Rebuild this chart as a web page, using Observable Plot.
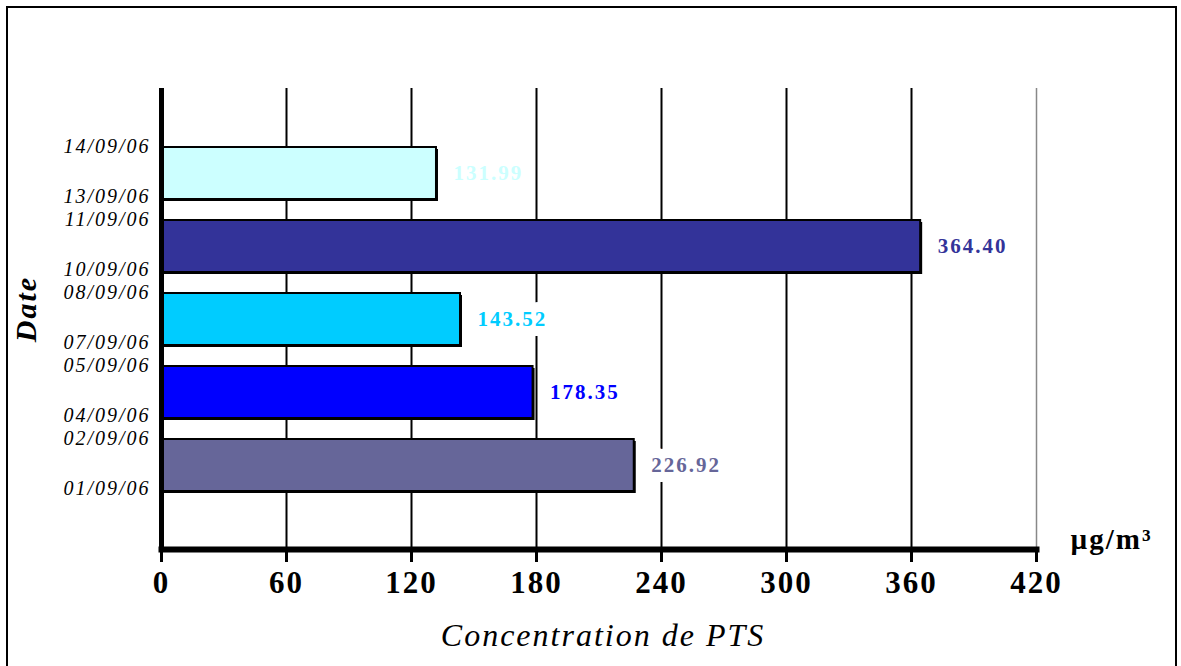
<!DOCTYPE html>
<html>
<head>
<meta charset="utf-8">
<script src="https://cdn.jsdelivr.net/npm/d3@7"></script>
<script src="https://cdn.jsdelivr.net/npm/@observablehq/plot@0.6"></script>
<style>
  html, body { margin: 0; padding: 0; background: #fff; overflow: hidden; }
  #wrap { position: relative; width: 1181px; height: 666px; overflow: hidden; }
  #chart { position: absolute; left: 0; top: 0; }
  #border { position: absolute; left: 6px; top: 6px; width: 1167px; height: 720px;
            border: 2px solid #000; pointer-events: none; }
  #chart svg text { letter-spacing: 2px; }
</style>
</head>
<body>
<div id="wrap"><div id="chart"></div><div id="border"></div></div>
<script>
// Sampling periods (top to bottom) and total suspended particulate concentrations
const startDates = ["13/09/06", "10/09/06", "07/09/06", "04/09/06", "01/09/06"];
const endDates = ["14/09/06", "11/09/06", "08/09/06", "05/09/06", "02/09/06"];
const concentrations = [131.99, 364.40, 143.52, 178.35, 226.92];
const barColors = ["#CCFFFF", "#333399", "#00CCFF", "#0000FF", "#666699"];
const xTicks = [0, 60, 120, 180, 240, 300, 360, 420];

const periods = startDates.map((s, i) => `${s} – ${endDates[i]}`);
const rows = periods.map((p, i) => ({
  period: p,
  start: startDates[i],
  end: endDates[i],
  value: concentrations[i],
  color: barColors[i]
}));

const serif = "'Liberation Serif', 'Times New Roman', serif";

const chart = Plot.plot({
  width: 1181,
  height: 666,
  marginLeft: 161,
  marginRight: 145,
  marginTop: 88,
  marginBottom: 117,
  style: { fontFamily: serif, background: "transparent", color: "#000", overflow: "visible" },
  x: { domain: [0, 420], axis: null },
  y: { domain: periods, paddingInner: 0.293, paddingOuter: 0.778, axis: null },
  color: { type: "identity" },
  marks: [
    // vertical grid lines
    Plot.ruleX(xTicks.filter(v => v > 0 && v < 420), { stroke: "#000", strokeWidth: 2 }),
    Plot.ruleX([420], { stroke: "#888", strokeWidth: 1.5 }),
    // bar shadows and bars
    Plot.barX(rows, { x: "value", y: "period", fill: "#000", dx: 2, dy: 2 }),
    Plot.barX(rows, { x: "value", y: "period", fill: d => d.color, stroke: "#000", strokeWidth: 2 }),
    // value labels
    Plot.text(rows, {
      x: "value", y: "period", text: d => d.value.toFixed(2),
      fill: d => d.color, textAnchor: "start", dx: 17,
      fontSize: 21, fontWeight: "bold",
      stroke: "#fff", strokeWidth: 20, paintOrder: "stroke"
    }),
    // date labels at the top and bottom of each bar
    Plot.text(rows, {
      y: "period", text: "end", frameAnchor: "left", textAnchor: "end",
      dx: -11, dy: -27, fontSize: 20, fontStyle: "italic"
    }),
    Plot.text(rows, {
      y: "period", text: "start", frameAnchor: "left", textAnchor: "end",
      dx: -11, dy: 23, fontSize: 20, fontStyle: "italic"
    }),
    // axes
    Plot.frame({ anchor: "bottom", stroke: "#000", strokeWidth: 6 }),
    Plot.ruleX([0], { stroke: "#000", strokeWidth: 5 }),
    Plot.axisX({
      ticks: xTicks, tickSize: 13, tickPadding: 8, strokeWidth: 3,
      fontSize: 31, fontWeight: "bold", anchor: "bottom", label: null
    }),
    // axis titles and unit
    Plot.text(["Date"], {
      text: d => d, frameAnchor: "left", textAnchor: "middle", lineAnchor: "middle",
      dx: -135, dy: -10, rotate: -90,
      fontSize: 30, fontWeight: "bold", fontStyle: "italic"
    }),
    Plot.text(["Concentration de PTS"], {
      text: d => d, frameAnchor: "bottom", textAnchor: "middle", lineAnchor: "middle",
      dx: 4, dy: 86, fontSize: 32, fontStyle: "italic"
    }),
    Plot.text(["µg/m³"], {
      text: d => d, frameAnchor: "bottom-right", textAnchor: "start", lineAnchor: "middle",
      dx: 34, dy: -10, fontSize: 29, fontWeight: "bold"
    })
  ]
});

document.getElementById("chart").appendChild(chart);
</script>
</body>
</html>
